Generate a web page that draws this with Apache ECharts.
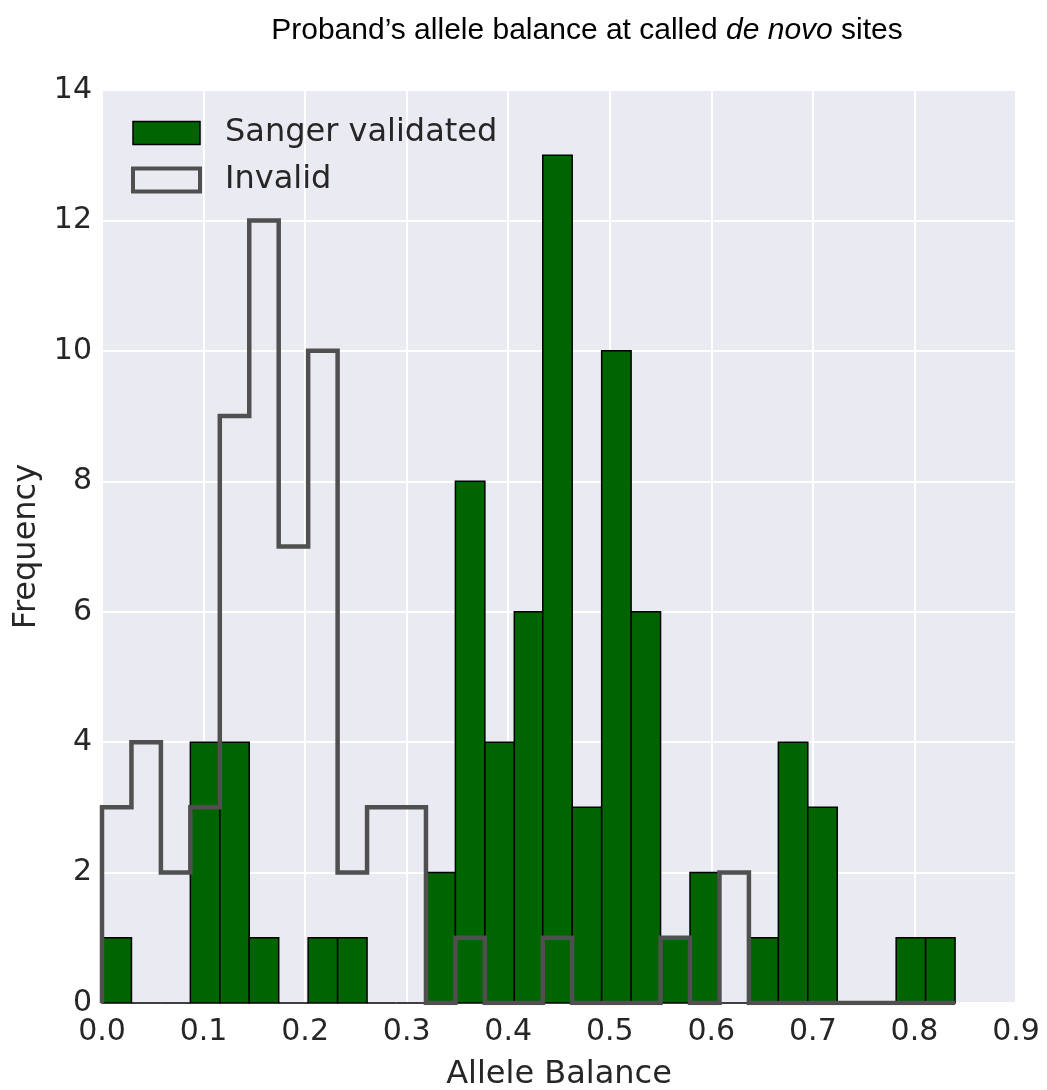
<!DOCTYPE html>
<html>
<head>
<meta charset="utf-8">
<script src="https://cdn.jsdelivr.net/npm/echarts@6/dist/echarts.min.js"></script>
<style>
html,body{margin:0;padding:0;background:#fff;}
#chart{width:1047px;height:1090px;}
</style>
</head>
<body>
<div id="chart"></div>
<script>
// Histogram bin edges (allele balance)
const binEdges = [0.000, 0.029, 0.058, 0.087, 0.116, 0.145, 0.174, 0.203, 0.232, 0.261,
                  0.290, 0.319, 0.348, 0.377, 0.406, 0.434, 0.463, 0.492, 0.521, 0.550,
                  0.579, 0.608, 0.637, 0.666, 0.695, 0.724, 0.753, 0.782, 0.811, 0.840];
// Counts per bin
const validatedCounts = [1,0,0,4,4,1,0,1,1,0,0,2,8,4,6,13,3,10,6,1,2,0,1,4,3,0,0,1,1];
const invalidCounts   = [3,4,2,3,9,12,7,10,2,3,3,0,1,0,0,1,0,0,0,1,0,2,0,0,0,0,0,0,0];
// Axis ticks
const xTicks = [0.0,0.1,0.2,0.3,0.4,0.5,0.6,0.7,0.8,0.9];
const yTicks = [0,2,4,6,8,10,12,14];

const barData = validatedCounts.map((c, i) => [binEdges[i], binEdges[i + 1], c]);
const stepData = [[binEdges[0], 0]];
invalidCounts.forEach((c, i) => { stepData.push([binEdges[i], c]); stepData.push([binEdges[i + 1], c]); });
stepData.push([binEdges[binEdges.length - 1], 0]);

const chart = echarts.init(document.getElementById('chart'), null, {renderer: 'canvas'});
const txt = '#262626';
chart.setOption({
  animation: false,
  backgroundColor: '#ffffff',
  title: {
    text: '{a|Proband\u2019s allele balance at called }{b|de novo}{a| sites}',
    left: 582, top: 11, textAlign: 'center',
    textStyle: {
      rich: {
        a: {fontFamily: 'Liberation Sans', fontSize: 30, fontWeight: 'normal', color: '#000'},
        b: {fontFamily: 'Liberation Sans', fontSize: 30, fontWeight: 'normal', fontStyle: 'italic', color: '#000'}
      }
    }
  },
  grid: {left: 102, right: 31, top: 90, bottom: 87, show: true, backgroundColor: '#EAEAF2', borderWidth: 0, outerBoundsMode: 'none', containLabel: false},
  legend: {
    orient: 'vertical', left: 131, top: 117, padding: 0,
    itemWidth: 67, itemHeight: 23, itemGap: 15,
    textStyle: {fontFamily: 'DejaVu Sans', fontSize: 32, lineHeight: 32, color: txt, padding: [0, 0, 0, 20]},
    data: [
      {name: 'Sanger validated', icon: 'rect', itemStyle: {color: '#006400', borderColor: '#000', borderWidth: 1.5}},
      {name: 'Invalid', icon: 'rect', itemStyle: {color: 'rgba(0,0,0,0)', borderColor: '#505050', borderWidth: 4}, lineStyle: {width: 0}}
    ]
  },
  xAxis: {
    type: 'value', min: xTicks[0], max: xTicks[xTicks.length - 1], interval: 0.1,
    name: 'Allele Balance', nameLocation: 'middle', nameGap: 56,
    nameTextStyle: {fontFamily: 'DejaVu Sans', fontSize: 32, color: txt},
    axisLine: {show: false}, axisTick: {show: false},
    axisLabel: {fontFamily: 'DejaVu Sans', fontSize: 30, color: txt, margin: 14, formatter: v => v.toFixed(1)},
    splitLine: {show: true, lineStyle: {color: '#ffffff', width: 2}}
  },
  yAxis: {
    type: 'value', min: yTicks[0], max: yTicks[yTicks.length - 1], interval: 2,
    name: 'Frequency', nameLocation: 'middle', nameGap: 58,
    nameTextStyle: {fontFamily: 'DejaVu Sans', fontSize: 32, color: txt},
    axisLine: {show: false}, axisTick: {show: false},
    axisLabel: {fontFamily: 'DejaVu Sans', fontSize: 30, color: txt, margin: 10},
    splitLine: {show: true, lineStyle: {color: '#ffffff', width: 2}}
  },
  series: [
    {
      name: 'Sanger validated', type: 'custom', z: 2,
      itemStyle: {color: '#006400', borderColor: '#000', borderWidth: 1.5},
      renderItem: function (params, api) {
        const p0 = api.coord([api.value(0), api.value(2)]);
        const p1 = api.coord([api.value(1), 0]);
        return {
          type: 'rect',
          shape: {x: p0[0], y: p0[1], width: p1[0] - p0[0], height: p1[1] - p0[1]},
          style: {fill: '#006400', stroke: '#000', lineWidth: 1.5}
        };
      },
      encode: {x: [0, 1], y: 2},
      data: barData
    },
    {
      name: 'Invalid', type: 'line', z: 3, symbol: 'none', silent: true,
      itemStyle: {color: 'rgba(0,0,0,0)', borderColor: '#505050', borderWidth: 4},
      lineStyle: {color: '#505050', width: 4.5, join: 'miter'},
      data: stepData
    }
  ]
});
</script>
</body>
</html>
